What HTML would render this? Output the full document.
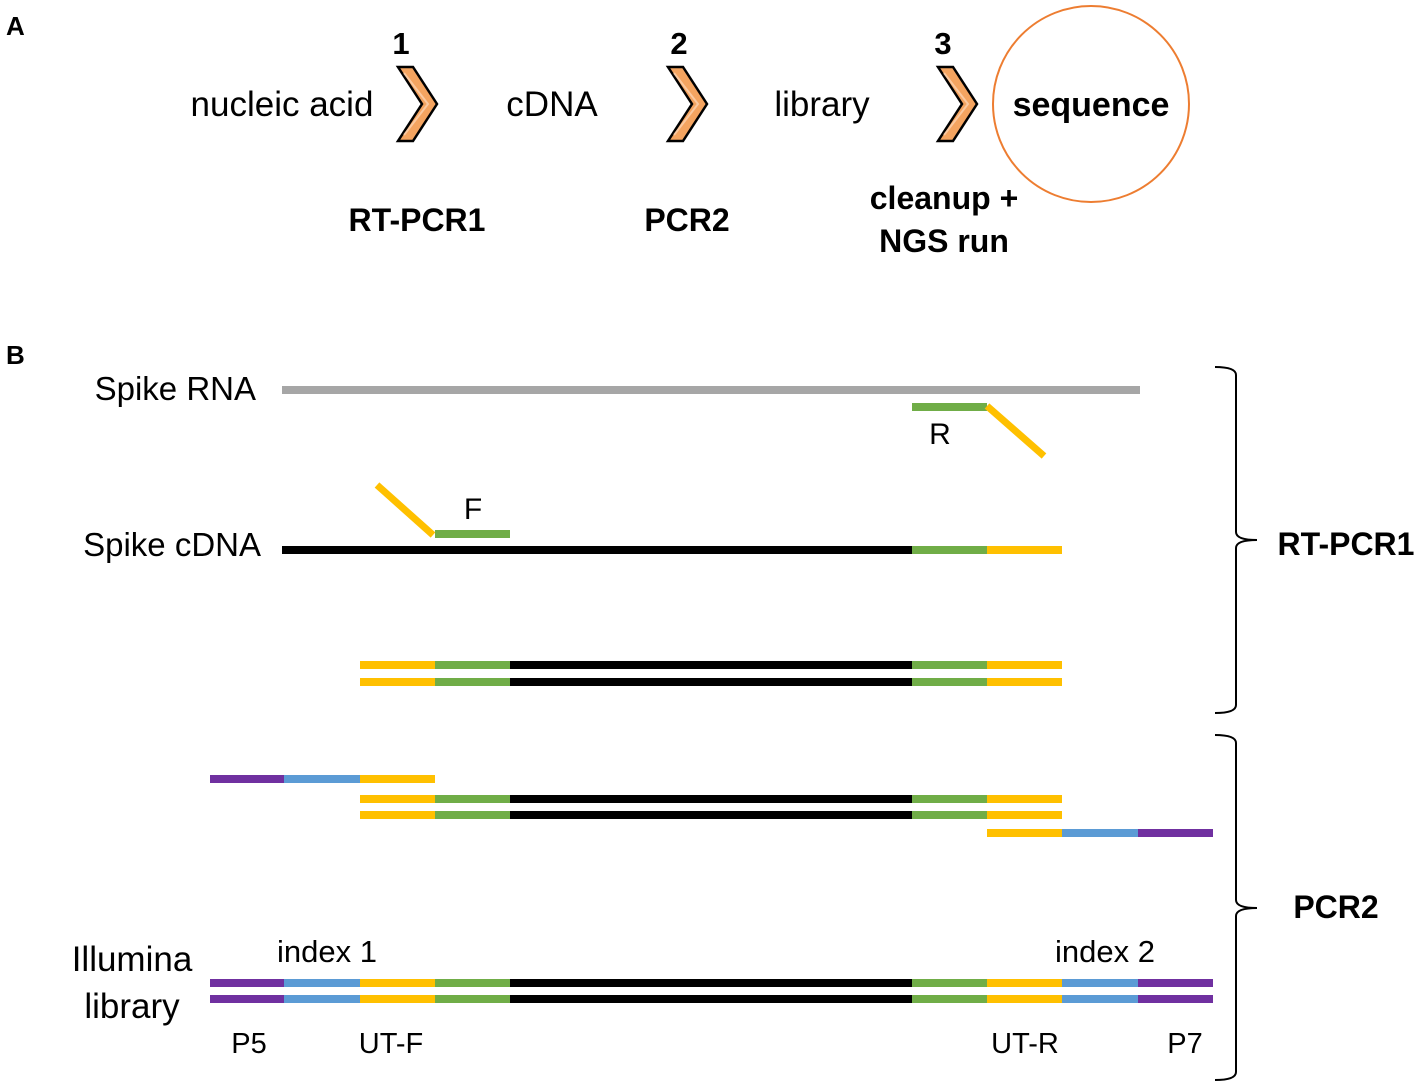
<!DOCTYPE html>
<html><head><meta charset="utf-8"><style>
html,body{margin:0;padding:0;background:#fff;}
svg text{font-family:"Liberation Sans",sans-serif;}
</style></head><body>
<svg width="1417" height="1084" viewBox="0 0 1417 1084" xmlns="http://www.w3.org/2000/svg">
<defs>
<g id="chev"><polygon points="0,0 15,0 39,37 15,74 0,74 24,37" fill="#F4A460" stroke="#000" stroke-width="2.5" stroke-linejoin="miter"/><polyline points="6,6 30,37 6,68" fill="none" stroke="#FBD2B0" stroke-width="2" opacity="0.8"/></g>
<g id="mid">
<rect x="360" y="0" width="75" height="8" fill="#FFC000"/><rect x="435" y="0" width="75" height="8" fill="#70AD47"/><rect x="510" y="0" width="402" height="8" fill="#000"/><rect x="912" y="0" width="75" height="8" fill="#70AD47"/><rect x="987" y="0" width="75" height="8" fill="#FFC000"/>
</g>
<g id="full">
<rect x="210" y="0" width="74" height="8" fill="#7030A0"/><rect x="284" y="0" width="76" height="8" fill="#5B9BD5"/><use href="#mid"/><rect x="1062" y="0" width="76" height="8" fill="#5B9BD5"/><rect x="1138" y="0" width="75" height="8" fill="#7030A0"/>
</g>
</defs>
<text x="6" y="35" font-size="26" font-weight="bold">A</text>
<text x="6" y="364" font-size="26" font-weight="bold">B</text>
<text x="401" y="54" font-size="31" font-weight="bold" text-anchor="middle">1</text>
<text x="679" y="54" font-size="31" font-weight="bold" text-anchor="middle">2</text>
<text x="943" y="54" font-size="31" font-weight="bold" text-anchor="middle">3</text>
<use href="#chev" x="398" y="67"/>
<use href="#chev" x="668" y="67"/>
<use href="#chev" x="938" y="67"/>
<text x="282" y="116" font-size="35" text-anchor="middle">nucleic acid</text>
<text x="552" y="116" font-size="35" text-anchor="middle">cDNA</text>
<text x="822" y="116" font-size="35" text-anchor="middle">library</text>
<circle cx="1091" cy="104" r="98" fill="none" stroke="#ED7D31" stroke-width="2"/>
<text x="1091" y="116" font-size="34" font-weight="bold" text-anchor="middle">sequence</text>
<text x="417" y="231" font-size="32" font-weight="bold" text-anchor="middle">RT-PCR1</text>
<text x="687" y="231" font-size="32" font-weight="bold" text-anchor="middle">PCR2</text>
<text x="944" y="209" font-size="32" font-weight="bold" text-anchor="middle">cleanup +</text>
<text x="944" y="252" font-size="32" font-weight="bold" text-anchor="middle">NGS run</text>

<text x="256" y="400" font-size="33" text-anchor="end">Spike RNA</text>
<rect x="282" y="386" width="858" height="8" fill="#A6A6A6"/>
<rect x="912" y="403" width="75" height="8" fill="#70AD47"/>
<line x1="987" y1="406" x2="1044" y2="456" stroke="#FFC000" stroke-width="7"/>
<text x="940" y="444" font-size="30" text-anchor="middle">R</text>
<line x1="377" y1="485" x2="433" y2="535" stroke="#FFC000" stroke-width="7"/>
<rect x="435" y="530" width="75" height="8" fill="#70AD47"/>
<text x="473" y="519" font-size="30" text-anchor="middle">F</text>
<text x="261" y="556" font-size="33" text-anchor="end">Spike cDNA</text>
<rect x="282" y="546" width="630" height="8" fill="#000"/><rect x="912" y="546" width="75" height="8" fill="#70AD47"/><rect x="987" y="546" width="75" height="8" fill="#FFC000"/>
<use href="#mid" y="661"/>
<use href="#mid" y="678"/>
<rect x="210" y="775" width="74" height="8" fill="#7030A0"/><rect x="284" y="775" width="76" height="8" fill="#5B9BD5"/><rect x="360" y="775" width="75" height="8" fill="#FFC000"/>
<use href="#mid" y="795"/>
<use href="#mid" y="811"/>
<rect x="987" y="829" width="75" height="8" fill="#FFC000"/><rect x="1062" y="829" width="76" height="8" fill="#5B9BD5"/><rect x="1138" y="829" width="75" height="8" fill="#7030A0"/>
<use href="#full" y="979"/>
<use href="#full" y="995"/>
<text x="132" y="971" font-size="35" text-anchor="middle">Illumina</text>
<text x="132" y="1018" font-size="35" text-anchor="middle">library</text>
<text x="327" y="962" font-size="31" text-anchor="middle">index 1</text>
<text x="1105" y="962" font-size="31" text-anchor="middle">index 2</text>
<text x="249" y="1053" font-size="29" text-anchor="middle">P5</text>
<text x="391" y="1053" font-size="29" text-anchor="middle">UT-F</text>
<text x="1025" y="1053" font-size="29" text-anchor="middle">UT-R</text>
<text x="1185" y="1053" font-size="29" text-anchor="middle">P7</text>

<path d="M1215,367 Q1236,367 1236,375 L1236,532 Q1236,540 1257,540 Q1236,540 1236,548 L1236,705 Q1236,713 1215,713" fill="none" stroke="#000" stroke-width="2"/>
<path d="M1215,735 Q1236,735 1236,743 L1236,900 Q1236,908 1257,908 Q1236,908 1236,916 L1236,1072 Q1236,1080 1215,1080" fill="none" stroke="#000" stroke-width="2"/>
<text x="1346" y="555" font-size="32" font-weight="bold" text-anchor="middle">RT-PCR1</text>
<text x="1336" y="918" font-size="32" font-weight="bold" text-anchor="middle">PCR2</text>
</svg>
</body></html>
